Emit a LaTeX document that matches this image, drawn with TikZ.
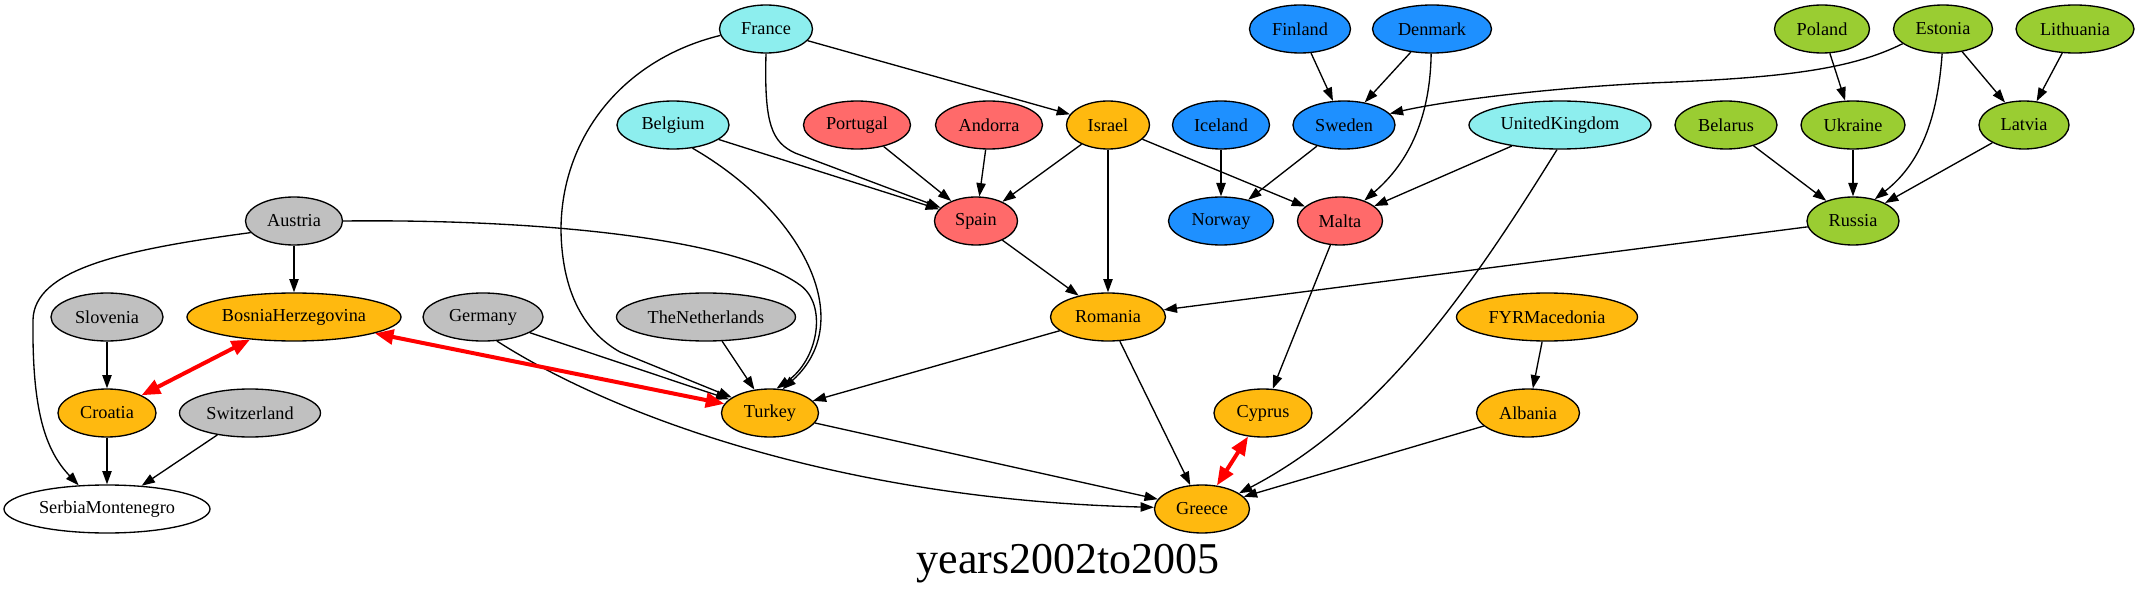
\documentclass[tikz,border=0pt]{standalone}
\usepackage{fontspec}
\setmainfont{Liberation Serif}
\usetikzlibrary{shapes.geometric,arrows.meta}
\definecolor{cyanc}{HTML}{8DEEEE}
\definecolor{redc}{HTML}{FF6A6A}
\definecolor{orc}{HTML}{FFB90F}
\definecolor{bluec}{HTML}{1E90FF}
\definecolor{greenc}{HTML}{9ACD32}
\definecolor{grayc}{HTML}{C0C0C0}
\newcommand{\cn}[1]{\makebox[0pt]{#1}}
\begin{document}
\begin{tikzpicture}[x=0.75pt,y=-0.75pt,
  country/.style={ellipse,draw=black,line width=1pt,inner sep=0pt,minimum height=36pt,minimum width={#1*0.75pt},font=\fontsize{13.7}{16}\selectfont},
  e/.style={draw=black,line width=1pt,-{Triangle[length=10pt,width=7pt]}},
  rv/.style={draw=red,line width=3pt,{Triangle[length=14pt,width=11pt]}-{Triangle[length=14pt,width=11pt]}}]
\useasboundingbox (0,0) rectangle (2139,599);
% row 1
\node[country=93,fill=cyanc] (France) at (766,29) {\cn{France}};
\node[country=101,fill=bluec] (Finland) at (1300,29) {\cn{Finland}};
\node[country=119,fill=bluec] (Denmark) at (1432,29) {\cn{Denmark}};
\node[country=95,fill=greenc] (Poland) at (1822,29) {\cn{Poland}};
\node[country=99,fill=greenc] (Estonia) at (1943,29) {\cn{Estonia}};
\node[country=118,fill=greenc] (Lithuania) at (2075,29) {\cn{Lithuania}};
% row 2
\node[country=112,fill=cyanc] (Belgium) at (673,125) {\cn{Belgium}};
\node[country=107,fill=redc] (Portugal) at (857,125) {\cn{Portugal}};
\node[country=107,fill=redc] (Andorra) at (989,125) {\cn{Andorra}};
\node[country=83,fill=orc] (Israel) at (1108,125) {\cn{Israel}};
\node[country=97,fill=bluec] (Iceland) at (1221,125) {\cn{Iceland}};
\node[country=102,fill=bluec] (Sweden) at (1344,125) {\cn{Sweden}};
\node[country=182,fill=cyanc] (UnitedKingdom) at (1560,125) {\cn{UnitedKingdom}};
\node[country=102,fill=greenc] (Belarus) at (1726,125) {\cn{Belarus}};
\node[country=104,fill=greenc] (Ukraine) at (1853,125) {\cn{Ukraine}};
\node[country=90,fill=greenc] (Latvia) at (2024,125) {\cn{Latvia}};
% row 3
\node[country=97,fill=grayc] (Austria) at (294,221) {\cn{Austria}};
\node[country=83,fill=redc] (Spain) at (976,221) {\cn{Spain}};
\node[country=105,fill=bluec] (Norway) at (1221,221) {\cn{Norway}};
\node[country=85,fill=redc] (Malta) at (1340,221) {\cn{Malta}};
\node[country=92,fill=greenc] (Russia) at (1853,221) {\cn{Russia}};
% row 4
\node[country=112,fill=grayc] (Slovenia) at (107,317) {\cn{Slovenia}};
\node[country=214,fill=orc] (Bosnia) at (294,317) {\cn{BosniaHerzegovina}};
\node[country=120,fill=grayc] (Germany) at (483,317) {\cn{Germany}};
\node[country=179,fill=grayc] (Netherlands) at (706,317) {\cn{TheNetherlands}};
\node[country=115,fill=orc] (Romania) at (1108,317) {\cn{Romania}};
\node[country=181,fill=orc] (Macedonia) at (1547,317) {\cn{FYRMacedonia}};
% row 5
\node[country=98,fill=orc] (Croatia) at (107,413) {\cn{Croatia}};
\node[country=141,fill=grayc] (Switzerland) at (250,413) {\cn{Switzerland}};
\node[country=97,fill=orc] (Turkey) at (770,413) {\cn{Turkey}};
\node[country=98,fill=orc] (Cyprus) at (1263,413) {\cn{Cyprus}};
\node[country=103,fill=orc] (Albania) at (1528,413) {\cn{Albania}};
% row 6
\node[country=206,fill=white] (Serbia) at (107,509) {\cn{SerbiaMontenegro}};
\node[country=95,fill=orc] (Greece) at (1202,509) {\cn{Greece}};
% title
\node[anchor=base,inner sep=0pt,font=\fontsize{33}{38}\selectfont] (title) at (1068,573) {years2002to2005};

% edges
\draw[e] (France) -- (Israel);
\draw[e] (France.south) .. controls (764,125) and (772,142) .. (795,153) -- (Spain);
\draw[e] (France.188) .. controls (620,60) and (561,140) .. (561,230) .. controls (562,300) and (590,335) .. (620,352) -- (Turkey);
\draw[e] (Belgium) -- (Spain);
\draw[e] (Belgium.-50) .. controls (800,210) and (860,320) .. (Turkey.62);
\draw[e] (Portugal) -- (Spain);
\draw[e] (Andorra) -- (Spain);
\draw[e] (Israel) -- (Spain);
\draw[e] (Israel) -- (Romania);
\draw[e] (Israel) -- (Malta);
\draw[e] (Finland) -- (Sweden);
\draw[e] (Denmark) -- (Sweden);
\draw[e] (Denmark.-92) .. controls (1430,130) and (1400,170) .. (Malta.40);
\draw[e] (Estonia.200) .. controls (1850,70) and (1780,78) .. (1650,83) .. controls (1550,88) and (1450,100) .. (Sweden.14);
\draw[e] (Iceland) -- (Norway);
\draw[e] (Sweden) -- (Norway);
\draw[e] (UnitedKingdom) -- (Malta);
\draw[e] (UnitedKingdom.-97) .. controls (1470,290) and (1380,420) .. (Greece.23);
\draw[e] (Poland) -- (Ukraine);
\draw[e] (Estonia.-92) .. controls (1938,110) and (1925,160) .. (Russia.45);
\draw[e] (Estonia) -- (Latvia);
\draw[e] (Lithuania) -- (Latvia);
\draw[e] (Belarus) -- (Russia);
\draw[e] (Ukraine) -- (Russia);
\draw[e] (Latvia) -- (Russia);
\draw[e] (Russia) -- (Romania);
\draw[e] (Austria) -- (Bosnia);
\draw[e] (Austria.195) .. controls (120,250) and (34,270) .. (33,320) .. controls (32,410) and (45,450) .. (Serbia.140);
\draw[e] (Austria.east) .. controls (520,219) and (730,235) .. (800,285) .. controls (828,305) and (818,360) .. (Turkey.75);
\draw[e] (Spain) -- (Romania);
\draw[e] (Malta) -- (Cyprus);
\draw[e] (Slovenia) -- (Croatia);
\draw[e] (Germany) -- (Turkey);
\draw[e] (Germany.-60) .. controls (620,420) and (850,500) .. (Greece.178);
\draw[e] (Netherlands) -- (Turkey);
\draw[e] (Romania) -- (Turkey);
\draw[e] (Romania) -- (Greece);
\draw[e] (Macedonia) -- (Albania);
\draw[e] (Croatia) -- (Serbia);
\draw[e] (Switzerland) -- (Serbia);
\draw[e] (Turkey) -- (Greece);
\draw[e] (Albania) -- (Greece);
% red links
\draw[rv] (Croatia) -- (Bosnia);
\draw[rv] (Bosnia) -- (Turkey);
\draw[rv] (Cyprus) -- (Greece);
\end{tikzpicture}
\end{document}
